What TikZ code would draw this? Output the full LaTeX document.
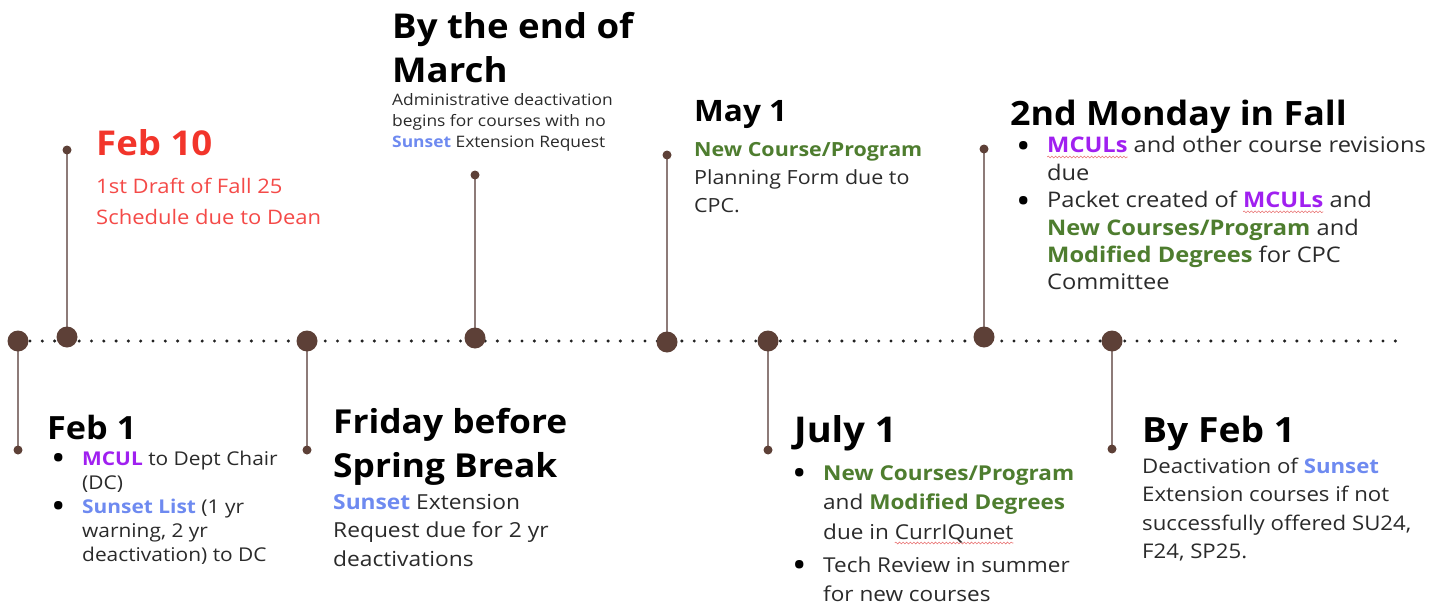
\documentclass[tikz,border=0pt]{standalone}
\usepackage{fontspec}
\setmainfont{Open Sans}[FakeStretch=1.1]
\newfontfamily\hfont{Open Sans}[FakeStretch=1.07]
\usetikzlibrary{decorations.pathmorphing}
\definecolor{brn}{HTML}{5D4037}
\definecolor{stemc}{HTML}{8D7B78}
\definecolor{redh}{HTML}{F2352B}
\definecolor{redb}{HTML}{F44A48}
\definecolor{purp}{HTML}{A020F0}
\definecolor{sunb}{HTML}{6E8AF0}
\definecolor{grn}{HTML}{4E7D2F}
\definecolor{bodyc}{HTML}{2A2A2A}
\definecolor{dotc}{HTML}{222222}
\definecolor{splred}{HTML}{E87070}
\newsavebox\splbox
\newcommand\spl[1]{\sbox\splbox{#1}\rlap{\tikz[overlay,baseline=0pt]\draw[splred, line width=0.55pt, decorate, decoration={snake, amplitude=0.9pt, segment length=3.6pt}] (0pt,-4pt) -- (\wd\splbox,-4pt);}\usebox\splbox}
\newcommand\hdf[1]{\hfont\fontsize{#1}{44}\selectfont\bfseries\color{black}}
\newcommand\bodyf[2]{\fontsize{#1}{#2}\selectfont\color{bodyc}}
\newcommand\mc[1]{\textcolor{purp}{\bfseries #1}}
\newcommand\sn[1]{\textcolor{sunb}{\bfseries #1}}
\newcommand\gn[1]{\textcolor{grn}{\bfseries #1}}
\newcommand\bul{\makebox[31pt][l]{\raisebox{-5.3pt}{\fontsize{35}{0}\selectfont\textcolor{black}{\textbullet}}}}
\newcommand\ind{\hspace*{31pt}}
\newcommand\lines[1]{\begin{tabular}[t]{@{}l@{}}#1\end{tabular}}
\begin{document}
\begin{tikzpicture}[x=1pt,y=-1pt,
  txt/.style={inner sep=0pt, anchor=base west},
  bigdot/.style={circle, fill=brn, minimum size=21pt, inner sep=0pt},
  smalldot/.style={circle, fill=brn, minimum size=9pt, inner sep=0pt},
  stemline/.style={draw=stemc, line width=2pt},
  tline/.style={draw=dotc, line width=3.4pt, line cap=round, dash pattern=on 0pt off 12.3pt}]
\useasboundingbox (0,0) rectangle (1445,607);
% timeline
\coordinate (tstart) at (30,341);
\coordinate (tend) at (1396,341);
\draw[tline] (tstart) -- (tend);
% stem end points
\coordinate (e1) at (18,450);
\coordinate (e2) at (67,150);
\coordinate (e3) at (307,450);
\coordinate (e4) at (475,175);
\coordinate (e5) at (667,155);
\coordinate (e6) at (768,450);
\coordinate (e7) at (984,149);
\coordinate (e8) at (1112,449);
% big dot centres
\coordinate (c1) at (18,341);
\coordinate (c2) at (67,337);
\coordinate (c3) at (307,341);
\coordinate (c4) at (475,338);
\coordinate (c5) at (667,342);
\coordinate (c6) at (768,341);
\coordinate (c7) at (984,337);
\coordinate (c8) at (1112,341);
\foreach \i in {1,...,8} {\draw[stemline] (c\i) -- (e\i);}
\foreach \i in {1,...,8} {\node[bigdot] (d\i) at (c\i) {}; \node[smalldot] (s\i) at (e\i) {};}
% Feb 10
\node[txt] (h1) at (96,156) {\hfont\fontsize{34.2}{44}\selectfont\bfseries\color{redh}Feb 10};
\node[txt] (b1) at (96,193) {\fontsize{20}{31}\selectfont\color{redb}\lines{1st Draft of Fall 25\\Schedule due to Dean}};
% Feb 1
\node[txt] (h2) at (47,439) {\hdf{32} Feb 1};
\node[txt] (b2) at (51,465) {\bodyf{19}{24}\lines{\bul\mc{MCUL} to Dept Chair\\ \ind(DC)\\ \bul\sn{Sunset List} (1 yr\\ \ind warning, 2 yr\\ \ind deactivation) to DC}};
% Friday before Spring Break
\node[txt] (h3) at (333,433) {\hdf{33}\lines{Friday before\\Spring Break}};
\node[txt] (b3) at (333,509) {\bodyf{20.7}{28.5}\lines{\sn{Sunset} Extension\\Request due for 2 yr\\deactivations}};
% By the end of March
\node[txt] (h4) at (392,39) {\hdf{34.2}\lines{By the end of\\March}};
\node[txt] (b4) at (392,106) {\bodyf{15.8}{21}\lines{Administrative deactivation\\begins for courses with no\\\sn{Sunset} Extension Request}};
% May 1
\node[txt] (h5) at (694,122) {\hdf{29.5} May 1};
\node[txt] (b5) at (694,157) {\bodyf{19.5}{28}\lines{\gn{New Course/Program}\\Planning Form due to\\CPC.}};
% 2nd Monday in Fall
\node[txt] (h6) at (1010,125) {\hdf{33.5} 2nd Monday in Fall};
\node[txt] (b6) at (1016,153) {\bodyf{21.5}{27.4}\lines{\bul\spl{\mc{MCULs}} and other course revisions\\ \ind due\\ \bul Packet created of \spl{\mc{MCULs}} and\\ \ind\gn{New Courses/Program} and\\ \ind\gn{Modified Degrees} for CPC\\ \ind Committee}};
% July 1
\node[txt] (h7) at (794,442) {\hdf{35.5} July 1};
\node[txt] (b7) at (792,480) {\bodyf{20.5}{29.5}\lines{\bul\gn{New Courses/Program}\\ \ind and \gn{Modified Degrees}\\ \ind due in \spl{CurrIQunet}\\[3.5pt] \bul Tech Review in summer\\ \ind for new courses}};
% By Feb 1
\node[txt] (h8) at (1142,442) {\hdf{34.8} By Feb 1};
\node[txt] (b8) at (1142,473) {\bodyf{20.2}{28.5}\lines{Deactivation of \sn{Sunset}\\Extension courses if not\\successfully offered SU24,\\F24, SP25.}};
\end{tikzpicture}
\end{document}
